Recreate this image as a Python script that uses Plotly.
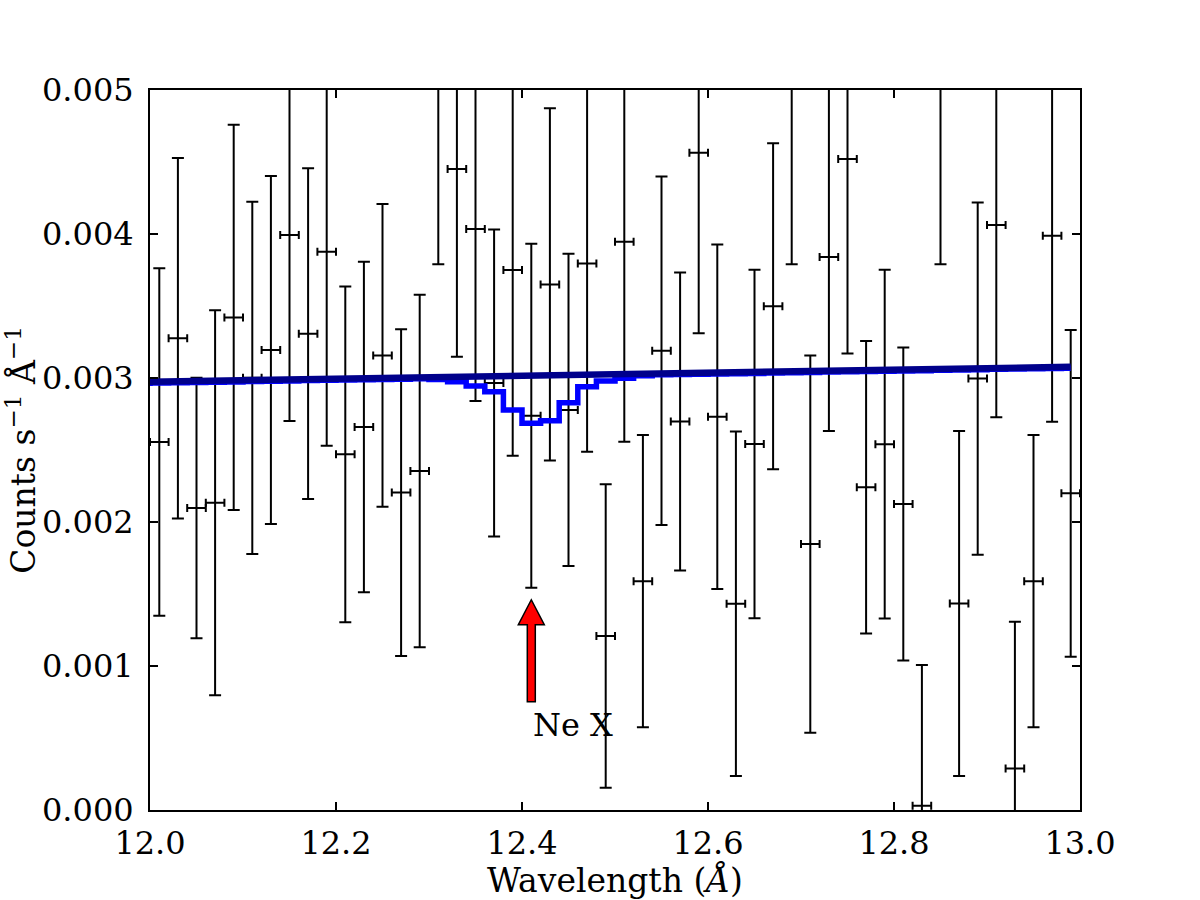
import plotly.graph_objects as go

# ---- observed spectrum (bin centres, rate, 1-sigma error) ----
WAVE = [12.01, 12.03, 12.05, 12.07, 12.09, 12.11, 12.13, 12.15, 12.17, 12.19,
        12.21, 12.23, 12.25, 12.27, 12.29, 12.31, 12.33, 12.35, 12.37, 12.39,
        12.41, 12.43, 12.45, 12.47, 12.49, 12.51, 12.53, 12.55, 12.57, 12.59,
        12.61, 12.63, 12.65, 12.67, 12.69, 12.71, 12.73, 12.75, 12.77, 12.79,
        12.81, 12.83, 12.85, 12.87, 12.89, 12.91, 12.93, 12.95, 12.97, 12.99]
RATE = [0.002556, 0.003276, 0.002097, 0.002134, 0.003421, 0.003001, 0.003194, 0.003993, 0.003308, 0.003877,
        0.002470, 0.002660, 0.003157, 0.002204, 0.002354, 0.005050, 0.004451, 0.004035, 0.002966, 0.003750,
        0.002738, 0.003650, 0.002778, 0.003796, 0.001208, 0.003947, 0.001589, 0.003189, 0.002698, 0.004565,
        0.002731, 0.001432, 0.002541, 0.003498, 0.005050, 0.001847, 0.003840, 0.004521, 0.002241, 0.002540,
        0.002125, 0.000030, 0.005050, 0.001434, 0.002996, 0.004063, 0.000289, 0.001589, 0.003988, 0.002199]
RATE_ERR = [0.001207, 0.001252, 0.000905, 0.001337, 0.001337, 0.001223, 0.001208, 0.001292, 0.001148, 0.001347,
            0.001166, 0.001148, 0.001051, 0.001135, 0.001224, 0.001260, 0.001303, 0.001195, 0.001066, 0.001290,
            0.001194, 0.001223, 0.001084, 0.001308, 0.001054, 0.001389, 0.001015, 0.001210, 0.001034, 0.001255,
            0.001196, 0.001196, 0.001210, 0.001132, 0.001260, 0.001310, 0.001208, 0.001350, 0.001016, 0.001211,
            0.001086, 0.000977, 0.001260, 0.001198, 0.001223, 0.001336, 0.001019, 0.001015, 0.001291, 0.001134]
BIN_HALF_WIDTH = 0.01

# ---- model with Ne X absorption line (step, bin centres) ----
MODEL_WAVE = [11.99, 12.01, 12.03, 12.05, 12.07, 12.09, 12.11, 12.13, 12.15, 12.17,
              12.19, 12.21, 12.23, 12.25, 12.27, 12.29, 12.31, 12.33, 12.35, 12.37,
              12.39, 12.41, 12.43, 12.45, 12.47, 12.49, 12.51, 12.53, 12.55, 12.57,
              12.59, 12.61, 12.63, 12.65, 12.67, 12.69, 12.71, 12.73, 12.75, 12.77,
              12.79, 12.81, 12.83, 12.85, 12.87, 12.89, 12.91, 12.93, 12.95, 12.97, 12.99]
MODEL_LINE = [0.002963, 0.002965, 0.002967, 0.002969, 0.002971, 0.002973, 0.002976, 0.002978, 0.002980, 0.002982,
              0.002984, 0.002986, 0.002988, 0.002990, 0.002992, 0.002994, 0.002990, 0.002974, 0.002944, 0.002905,
              0.002778, 0.002685, 0.002703, 0.002828, 0.002940, 0.002979, 0.002998, 0.003015, 0.003022, 0.003024,
              0.003026, 0.003028, 0.003030, 0.003032, 0.003034, 0.003036, 0.003039, 0.003041, 0.003043, 0.003045,
              0.003047, 0.003049, 0.003051, 0.003053, 0.003055, 0.003057, 0.003060, 0.003062, 0.003064, 0.003066, 0.003068]

# ---- continuum model ----
CONT_WAVE = [11.99, 12.99]
CONT = [0.002973, 0.003078]

# ---- annotation ----
LINE_NAME = "Ne X"
ARROW_X = 12.41
ARROW_TIP = 0.00146
LABEL_Y = 0.00059

X_TICKS = [12.0, 12.2, 12.4, 12.6, 12.8, 13.0]
Y_TICKS = [0.000, 0.001, 0.002, 0.003, 0.004, 0.005]

FONT = "DejaVu Serif"

fig = go.Figure()

fig.add_trace(go.Scatter(
    x=WAVE, y=RATE, mode="markers",
    marker=dict(size=0.1, color="black"),
    error_y=dict(type="data", array=RATE_ERR, color="black", thickness=2, width=6),
    error_x=dict(type="constant", value=BIN_HALF_WIDTH, color="black", thickness=2, width=4),
    showlegend=False, hoverinfo="skip",
))

fig.add_trace(go.Scatter(
    x=MODEL_WAVE, y=MODEL_LINE, mode="lines",
    line=dict(color="#0000ff", width=5.5, shape="hvh"),
    showlegend=False,
))

fig.add_trace(go.Scatter(
    x=CONT_WAVE, y=CONT, mode="lines",
    line=dict(color="#00008b", width=6.5),
    showlegend=False,
))

# red outlined arrow (pixel-sized shape anchored at data point)
fig.add_shape(
    type="path", xref="x", yref="y",
    xsizemode="pixel", ysizemode="pixel",
    xanchor=ARROW_X, yanchor=ARROW_TIP,
    path="M0,0 L13,-25 L4,-25 L4,-102 L-4,-102 L-4,-25 L-13,-25 Z",
    fillcolor="red", line=dict(color="black", width=1.5),
)

fig.add_annotation(
    x=ARROW_X, y=LABEL_Y, xref="x", yref="y",
    text=LINE_NAME, showarrow=False,
    xanchor="left", yanchor="middle",
    font=dict(family=FONT, size=32, color="black"),
)

axis_common = dict(
    showline=True, linecolor="black", linewidth=2,
    mirror="ticks", ticks="inside", ticklen=8, tickwidth=2, tickcolor="black",
    showgrid=False, zeroline=False,
    tickfont=dict(family=FONT, size=32, color="black"),
)

fig.update_xaxes(
    range=[12.0, 13.0], tickvals=X_TICKS, tickformat=".1f",
    ticklabelstandoff=4,
    title=dict(text="Wavelength (<i>Å</i>)", font=dict(family=FONT, size=33, color="black"), standoff=8),
    **axis_common,
)
fig.update_yaxes(
    range=[0.0, 0.005], tickvals=Y_TICKS, tickformat=".3f",
    ticklabelstandoff=8,
    title=dict(text="Counts s<sup>−1</sup> Å<sup>−1</sup>", font=dict(family=FONT, size=33, color="black"), standoff=8),
    **axis_common,
)

fig.update_layout(
    width=1200, height=900,
    margin=dict(l=150, r=120, t=90, b=90, autoexpand=False),
    paper_bgcolor="white", plot_bgcolor="white",
    font=dict(family=FONT, size=32, color="black"),
)

fig.write_html("out.html")
